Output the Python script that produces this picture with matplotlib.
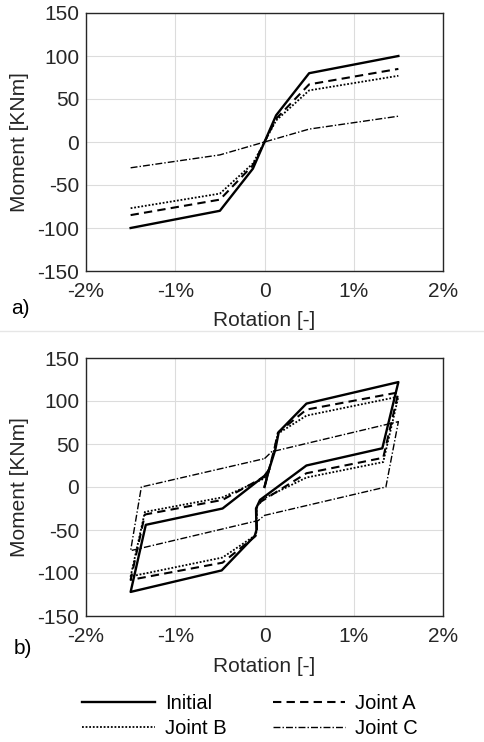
import numpy as np
import matplotlib
matplotlib.use('Agg')
import matplotlib.pyplot as plt
from matplotlib.lines import Line2D

plt.rcParams['font.family'] = ['Liberation Sans', 'DejaVu Sans']
plt.rcParams['axes.unicode_minus'] = False

# a) monotonic envelopes, rotation in %
rot_a = [-1.5, -0.5, -0.13, 0.0, 0.13, 0.5, 1.5]
initial_a = [-100, -80, -31, 0, 31, 80, 100]
joint_a_a = [-85, -67, -27, 0, 27, 67, 85]
joint_b_a = [-77, -60, -25, 0, 25, 60, 77]
rot_c_a = [-1.5, -0.5, 0.0, 0.5, 1.5]
joint_c_a = [-30, -15, 0, 15, 30]

# b) cyclic loops
rot_init_b = [0.0, 0.05, 0.12, 0.16, 0.47, 1.5, 1.32, 0.47, -0.05, -0.095, -0.09, -0.11,
              -0.48, -1.5, -1.33, -0.47, 0.0, 0.05]
initial_b = [0, 20, 43, 64, 97, 122, 45, 25, -15, -25, -50, -57, -97, -122, -44, -25, 13, 20]

rot_ab_b = [0.0, 0.05, 0.11, 0.15, 0.47, 1.5, 1.33, 0.47, -0.04, -0.09, -0.085, -0.1,
            -0.47, -1.5, -1.34, -0.47, 0.0, 0.05]
joint_a_b = [0, 20, 44, 63, 90, 110, 34, 16, -17, -25, -50, -57, -88, -108, -32, -15, 12, 20]
joint_b_b = [0, 20, 44, 62, 83, 105, 29, 11, -15, -25, -50, -56, -82, -104, -29, -12, 10, 20]

rot_c_b = [0.0, 0.08, 1.5, 1.36, 0.0, -0.07, -1.5, -1.38, 0.0]
joint_c_b = [33, 41, 76, 0, -33, -39, -74, 0, 33]

xticks = [-2, -1, 0, 1, 2]
xticklabels = ['-2%', '-1%', '0', '1%', '2%']
yticks = [-150, -100, -50, 0, 50, 100, 150]

styles = {
    'Initial': dict(color='black', lw=1.7, ls='-'),
    'Joint A': dict(color='black', lw=1.5, ls=(0, (4, 2.5))),
    'Joint B': dict(color='black', lw=1.3, ls=(0, (1, 1))),
    'Joint C': dict(color='black', lw=1.0, ls=(0, (5, 1.5, 1, 1.5))),
}

fs = 15

fig = plt.figure(figsize=(4.84, 7.42), dpi=100)
ax1 = fig.add_axes([86 / 484, 1 - 271 / 742, 357 / 484, 258 / 742])
ax2 = fig.add_axes([86 / 484, 1 - 616 / 742, 357 / 484, 258 / 742])

ax1.plot(rot_a, initial_a, **styles['Initial'])
ax1.plot(rot_a, joint_a_a, **styles['Joint A'])
ax1.plot(rot_a, joint_b_a, **styles['Joint B'])
ax1.plot(rot_c_a, joint_c_a, **styles['Joint C'])

ax2.plot(rot_init_b, initial_b, **styles['Initial'])
ax2.plot(rot_ab_b, joint_a_b, **styles['Joint A'])
ax2.plot(rot_ab_b, joint_b_b, **styles['Joint B'])
ax2.plot(rot_c_b, joint_c_b, **styles['Joint C'])

for ax in (ax1, ax2):
    ax.set_xlim(-2, 2)
    ax.set_ylim(-150, 150)
    ax.set_xticks(xticks)
    ax.set_xticklabels(xticklabels)
    ax.set_yticks(yticks)
    ax.set_yticklabels([str(v) for v in yticks])
    ax.grid(True, color='#dcdcdc', lw=0.8)
    ax.set_axisbelow(True)
    ax.tick_params(length=0, labelsize=fs, colors='#262626')
    ax.tick_params(axis='x', pad=8)
    ax.tick_params(axis='y', pad=5)
    for sp in ax.spines.values():
        sp.set_color('#262626')
        sp.set_linewidth(1.0)
    ax.set_xlabel('Rotation [-]', fontsize=fs, color='#262626', va='center')
    ax.set_ylabel('Moment [KNm]', fontsize=fs, color='#262626', va='center')
    ax.xaxis.set_label_coords(0.5, -50 / 258)
    ax.yaxis.set_label_coords(-66 / 357, 0.5)

fig.text(20 / 484, 1 - 308 / 742, 'a)', fontsize=fs, ha='center', va='center')
fig.text(23 / 484, 1 - 649 / 742, 'b)', fontsize=fs, ha='center', va='center')

fig.add_artist(Line2D([0, 1], [1 - 331 / 742, 1 - 331 / 742], color='#e6e6e6', lw=1))

order = ['Initial', 'Joint B', 'Joint A', 'Joint C']
handles = [Line2D([], [], **styles[k]) for k in order]
fig.legend(handles, order, ncol=2, loc='center', bbox_to_anchor=(250 / 484, 1 - 716 / 742),
           frameon=False, fontsize=14.5, handlelength=3.6, columnspacing=2.3,
           labelspacing=0.3, handletextpad=0.5)

fig.savefig('out.png', dpi=100)
